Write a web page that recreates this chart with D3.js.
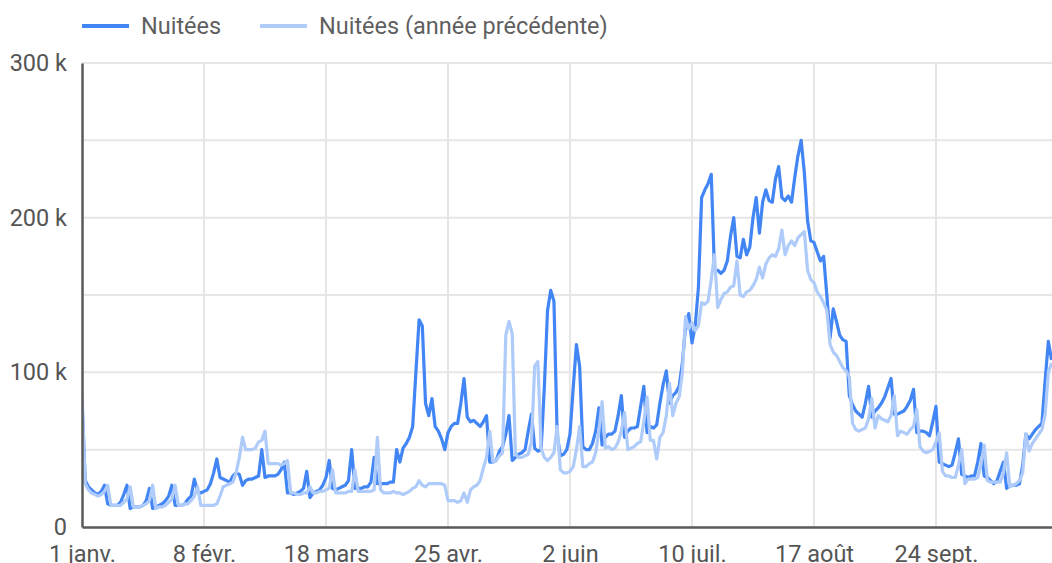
<!DOCTYPE html>
<html>
<head>
<meta charset="utf-8">
<script src="https://cdn.jsdelivr.net/npm/d3@7"></script>
<style>
  body { margin: 0; background: #fff; }
  svg { display: block; font-family: Roboto, "Noto Sans", sans-serif; }
</style>
</head>
<body>
<div id="chart"></div>
<script>
// Daily values in thousands, from 1 janv. (day 0) to 30 oct. (day 302)
const nuitees = [
  82,30,26,24,22,21,23,27,15,14, 14,14,16,21,27,12,13,13,13,14,
  17,25,12,13,14,15,17,20,27,14, 14,14,15,18,20,31,23,22,23,24,
  28,35,44,32,31,30,29,33,35,34, 27,30,31,31,32,33,50,32,33,33,
  33,34,37,42,22,22,21,22,23,25, 36,19,22,23,24,27,32,43,25,24,
  25,26,27,30,50,25,25,25,26,26, 29,45,28,28,28,28,29,29,50,42,
  51,54,58,65,100,134,130,80,72,83, 65,62,57,50,61,65,67,67,80,96,
  71,68,69,67,65,68,72,42,42,43, 49,52,60,72,43,45,47,48,50,62,
  73,51,49,50,90,140,153,146,60,46, 47,50,60,90,118,104,52,50,50,54,
  62,77,53,58,60,60,62,72,85,58, 62,64,64,65,78,91,61,65,64,66,
  80,92,101,80,85,87,91,106,130,138, 119,130,155,213,218,222,228,166,166,164,
  166,172,188,200,175,174,186,176,181,200, 213,190,210,218,211,210,225,233,213,211,
  214,210,226,240,250,229,198,185,184,178, 172,175,150,122,141,133,124,121,120,85,
  79,75,73,71,80,91,71,75,77,80, 84,90,96,73,73,74,75,78,82,89,
  61,62,62,61,59,68,78,42,41,40, 39,40,48,57,34,33,32,33,33,42,
  54,33,32,30,28,30,36,42,25,27, 27,27,28,40,60,57,60,63,65,67,
  95,120,108
];
const nuiteesPrev = [
  86,28,24,22,21,20,21,23,27,14, 14,14,14,16,18,26,13,13,13,14,
  15,17,27,12,13,13,14,16,18,27, 14,14,15,15,17,20,26,14,14,14,
  14,14,15,20,26,27,28,29,35,45, 58,50,50,50,51,55,56,62,41,41,
  41,41,40,41,43,22,22,21,21,22, 22,26,22,22,23,23,24,25,37,22,
  22,22,22,23,23,37,23,23,23,23, 23,24,58,24,22,22,22,23,22,22,
  21,22,23,25,26,30,27,26,28,28, 28,28,28,27,17,17,17,16,17,22,
  16,24,26,27,30,38,45,62,42,43, 46,48,124,133,125,47,45,45,46,47,
  55,104,107,51,45,43,45,48,65,37, 35,35,36,39,50,65,39,39,41,42,
  48,62,81,51,52,50,51,55,62,74, 50,51,52,54,55,68,84,56,56,44,
  58,61,72,93,72,80,84,100,136,128, 132,127,130,145,144,146,160,176,142,147,
  151,152,155,156,172,150,149,152,153,156, 160,168,161,170,174,176,175,180,192,176,
  182,185,182,187,189,191,166,160,158,152, 149,145,140,118,113,111,107,103,101,97,
  67,63,62,63,64,70,83,64,72,70, 69,68,72,85,59,62,61,60,63,65,
  76,52,49,48,49,50,55,61,36,33, 33,32,32,40,50,28,31,31,31,32,
  40,53,30,29,29,29,29,35,48,26, 27,28,30,35,60,49,54,57,60,63,
  73,100,106
];
const xTickDays = [0, 38, 76, 114, 152, 190, 228, 266];
const yTicks = [0, 100000, 200000, 300000];
const yGrid = [50000, 100000, 150000, 200000, 250000, 300000];
const seriesNames = ["Nuitées", "Nuitées (année précédente)"];
const seriesColors = ["#4285f4", "#aecbfa"];

const width = 1052;
const height = 563;
const margin = { top: 63, right: 0, bottom: 36, left: 82 };

const start = new Date(2019, 0, 1);
const dayDate = i => d3.timeDay.offset(start, i);

const fr = d3.timeFormatLocale({
  dateTime: "%A %e %B %Y à %X", date: "%d/%m/%Y", time: "%H:%M:%S",
  periods: ["AM", "PM"],
  days: ["dimanche", "lundi", "mardi", "mercredi", "jeudi", "vendredi", "samedi"],
  shortDays: ["dim.", "lun.", "mar.", "mer.", "jeu.", "ven.", "sam."],
  months: ["janvier", "février", "mars", "avril", "mai", "juin", "juillet", "août", "septembre", "octobre", "novembre", "décembre"],
  shortMonths: ["janv.", "févr.", "mars", "avr.", "mai", "juin", "juil.", "août", "sept.", "oct.", "nov.", "déc."]
});

const svg = d3.select("#chart")
  .append("svg")
  .attr("width", width)
  .attr("height", height);

// Scales
const x = d3.scaleTime()
  .domain([start, dayDate(302)])
  .range([margin.left, margin.left + 302 * 122 / 38]);

const y = d3.scaleLinear()
  .domain([0, 300000])
  .range([height - margin.bottom, margin.top]);

const plotBottom = y(0);
const plotRight = width;

// Gridlines
svg.append("g")
  .selectAll("line")
  .data(yGrid)
  .join("line")
  .attr("x1", margin.left)
  .attr("x2", plotRight)
  .attr("y1", d => y(d))
  .attr("y2", d => y(d))
  .attr("stroke", "#e6e6e6")
  .attr("stroke-width", 2);

svg.append("g")
  .selectAll("line")
  .data(xTickDays.slice(1))
  .join("line")
  .attr("x1", d => x(dayDate(d)))
  .attr("x2", d => x(dayDate(d)))
  .attr("y1", margin.top)
  .attr("y2", plotBottom)
  .attr("stroke", "#e6e6e6")
  .attr("stroke-width", 2);

// Lines
svg.append("clipPath").attr("id", "plot")
  .append("rect")
  .attr("x", margin.left).attr("y", 0)
  .attr("width", plotRight - margin.left).attr("height", plotBottom);

const line = d3.line()
  .x((d, i) => x(dayDate(i)))
  .y(d => y(d * 1000));

[nuitees, nuiteesPrev].forEach((series, k) => {
  svg.append("path")
    .datum(series)
    .attr("clip-path", "url(#plot)")
    .attr("fill", "none")
    .attr("stroke", seriesColors[k])
    .attr("stroke-width", 3.2)
    .attr("stroke-linejoin", "round")
    .attr("d", line);
});

// Axes
const yAxis = svg.append("g")
  .attr("transform", `translate(${margin.left},0)`)
  .call(d3.axisLeft(y).tickValues(yTicks).tickSize(0).tickPadding(15)
    .tickFormat(d => d === 0 ? "0" : `${d / 1000} k`));
yAxis.select(".domain").attr("stroke", "#5a5a5a").attr("stroke-width", 2.5);
yAxis.selectAll("text").attr("font-size", "23.5px").attr("fill", "#555")
  .attr("font-family", "Roboto, sans-serif");

const xAxis = svg.append("g")
  .attr("transform", `translate(0,${plotBottom})`)
  .call(d3.axisBottom(x).tickValues(xTickDays.map(dayDate)).tickSize(0).tickPadding(18)
    .tickFormat(fr.format("%-d %b")));
xAxis.select(".domain").attr("stroke", "#5a5a5a").attr("stroke-width", 2.5);
xAxis.selectAll("text").attr("font-size", "23.5px").attr("fill", "#555")
  .attr("font-family", "Roboto, sans-serif");

// Legend
const legendX = [82, 260];
const legend = svg.append("g");
seriesNames.forEach((name, i) => {
  legend.append("line")
    .attr("x1", legendX[i]).attr("x2", legendX[i] + 47)
    .attr("y1", 26).attr("y2", 26)
    .attr("stroke", seriesColors[i])
    .attr("stroke-width", 4);
  legend.append("text")
    .attr("x", legendX[i] + 59)
    .attr("y", 26)
    .attr("dy", "0.35em")
    .attr("font-size", "23.5px")
    .attr("fill", "#5f5f5f")
    .text(name);
});
</script>
</body>
</html>
